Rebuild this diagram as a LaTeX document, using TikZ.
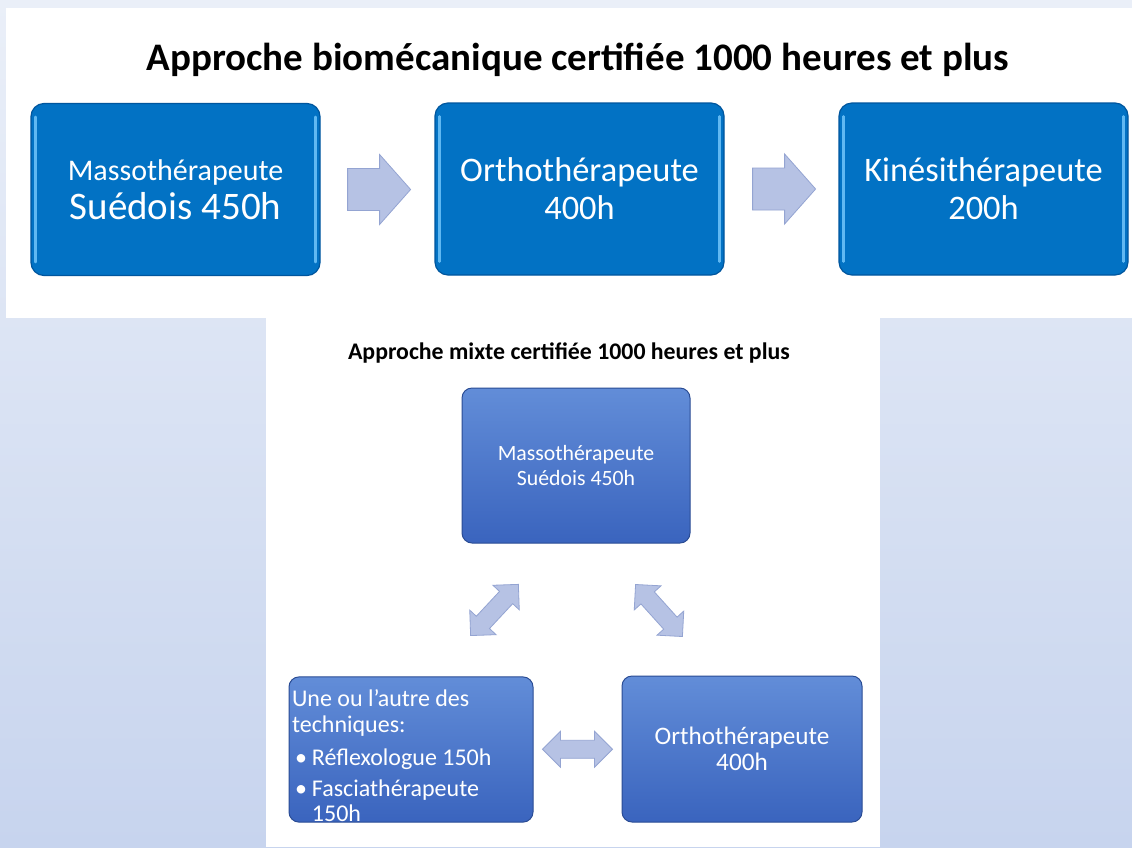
\documentclass[tikz,border=0pt]{standalone}
\usepackage{fontspec}
\setmainfont{Carlito}
\usetikzlibrary{calc}
\definecolor{bgtop}{RGB}{234,239,248}
\definecolor{bgbot}{RGB}{199,212,238}
\definecolor{boxblue}{RGB}{2,114,196}
\definecolor{boxedge}{RGB}{0,86,158}
\definecolor{bevel}{RGB}{96,184,242}
\definecolor{mixtop}{RGB}{98,141,216}
\definecolor{mixbot}{RGB}{58,100,190}
\definecolor{mixedge}{RGB}{42,76,148}
\definecolor{arrfill}{RGB}{182,194,228}
\definecolor{arredge}{RGB}{148,164,210}
\tikzset{
	bigbox/.style={rectangle, rounded corners=13pt, fill=boxblue, draw=boxedge, line width=1.2pt, minimum width=289pt, minimum height=172pt, text=white, align=center, inner sep=0pt},
	mixbox/.style={rectangle, rounded corners=10pt, top color=mixtop, bottom color=mixbot, draw=mixedge, line width=1pt, text=white, inner sep=0pt},
	blockarrow/.style={fill=arrfill, draw=arredge, line width=0.8pt, line join=miter},
	bevelline/.style={bevel, line width=2.5pt, line cap=round}
}
\def\fatarrow#1{\draw[blockarrow, shift={#1}] (0,-21) -- (32,-21) -- (32,-35) -- (63,0) -- (32,35) -- (32,21) -- (0,21) -- cycle;}
\def\dblarrow#1#2{\draw[blockarrow, shift={#1}, rotate=#2] (-35,0) -- (-17,18) -- (-17,9) -- (17,9) -- (17,18) -- (35,0) -- (17,-18) -- (17,-9) -- (-17,-9) -- (-17,-18) -- cycle;}

\begin{document}
\begin{tikzpicture}[x=1pt, y=-1pt]
		%%%%% START %%%%%
		
		\useasboundingbox (0,0) rectangle (1132,847);
		\shade[top color=bgtop, bottom color=bgbot] (0,0) rectangle (1132,847);
		\fill[white] (6,8) rectangle (1132,318);
		\fill[white] (266,318) rectangle (880,847);
		
		\node[font=\bfseries\fontsize{39}{46}\selectfont] (titlebio) at (578,60) {Approche biomécanique certifiée 1000 heures et plus};
		
		\node[bigbox] (masso) at (175.5,189.5) {\fontsize{30}{34}\selectfont Massothérapeute\\[6pt]\fontsize{39}{44}\selectfont Suédois 450h};
		\node[bigbox, font=\fontsize{34.4}{38}\selectfont] (ortho) at (579.5,189) {Orthothérapeute\\400h};
		\node[bigbox, font=\fontsize{34.4}{38}\selectfont] (kine) at (983.5,189) {Kinésithérapeute\\200h};
		
		\foreach \b in {masso, ortho, kine} {
			\draw[bevelline] ($(\b.north west)+(5,14)$) -- ($(\b.south west)+(5,-14)$);
			\draw[bevelline] ($(\b.north east)+(-5,14)$) -- ($(\b.south east)+(-5,-14)$);
		}
		
		\fatarrow{($(masso.east)+(27,0)$)}
		\fatarrow{($(ortho.east)+(28,0)$)}
		
		\node[font=\bfseries\fontsize{23.8}{28}\selectfont] (titlemix) at (569,353) {Approche mixte certifiée 1000 heures et plus};
		
		\node[mixbox, minimum width=228pt, minimum height=155pt, align=center, font=\fontsize{21.8}{25}\selectfont] (mmasso) at (576,465.5) {Massothérapeute\\Suédois 450h};
		\node[mixbox, minimum width=244pt, minimum height=145pt, text width=238pt, align=flush left, font=\fontsize{24}{25.5}\selectfont] (mtech) at (411,749.5) {\rule{0pt}{30pt}Une ou l’autre des\\techniques:\\[8pt]\hspace*{3pt}•\hspace{5pt}Réflexologue 150h\\[5pt]\hspace*{3pt}•\hspace{5pt}Fasciathérapeute\\\hspace*{3pt}\phantom{•}\hspace{5pt}150h};
		\node[mixbox, minimum width=240pt, minimum height=146pt, align=center, font=\fontsize{25.2}{26}\selectfont] (mortho) at (742,749) {Orthothérapeute\\400h};
		
		\dblarrow{($(mmasso.south west)!0.5!(mtech.north east)+(-3,0)$)}{47}
		\dblarrow{($(mmasso.south east)!0.5!(mortho.north west)+(3,1)$)}{-48}
		\dblarrow{($(mtech.east)!0.5!(mortho.west)$)}{0}
		
		%%%%% END %%%%%
\end{tikzpicture}
\end{document}
